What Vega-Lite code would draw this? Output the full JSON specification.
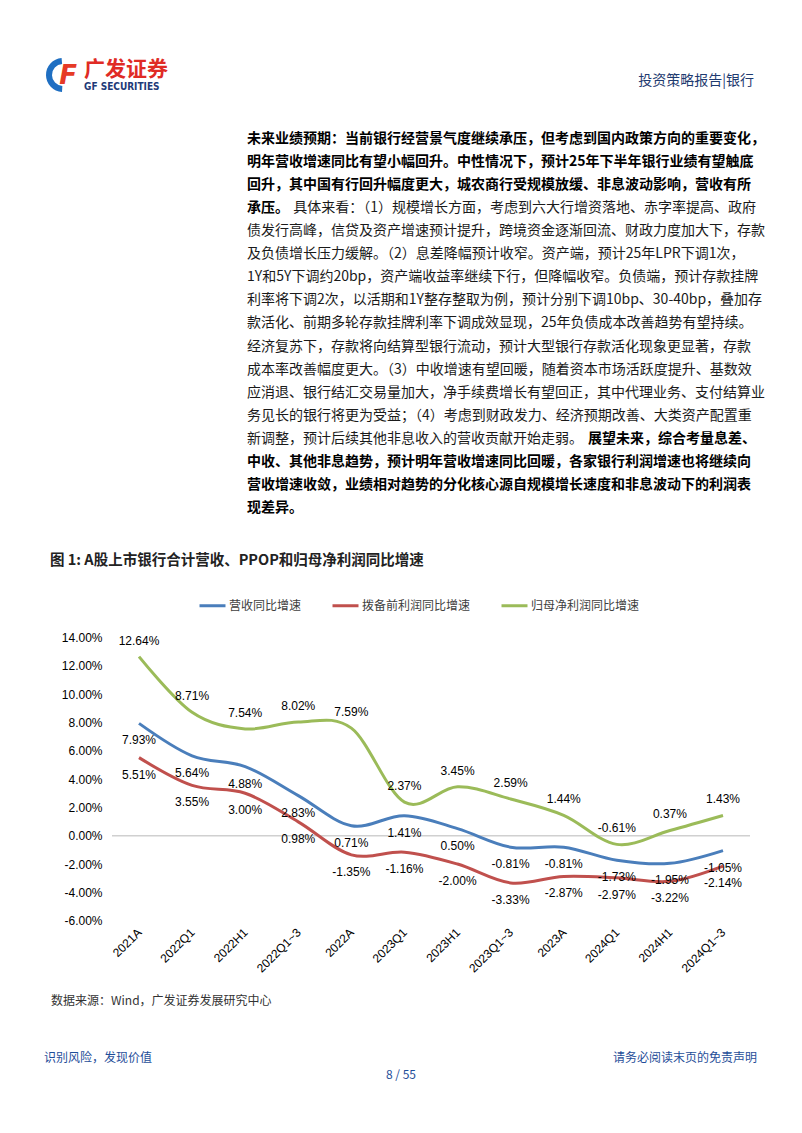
{
  "$schema": "https://vega.github.io/schema/vega-lite/v6.json",
  "width": 802,
  "height": 1133,
  "padding": 0,
  "autosize": {"type": "none"},
  "background": "white",
  "config": {
    "view": {"stroke": null},
    "font": "Liberation Sans",
    "locale": {"number": {"decimal": ".", "thousands": ",", "grouping": [3], "currency": ["$", ""], "minus": "-"}}
  },
  "datasets": {
    "growth": [
      {"period": "2021A", "series": "营收同比增速", "value": 0.0793},
      {"period": "2022Q1", "series": "营收同比增速", "value": 0.0564},
      {"period": "2022H1", "series": "营收同比增速", "value": 0.0488},
      {"period": "2022Q1~3", "series": "营收同比增速", "value": 0.0283},
      {"period": "2022A", "series": "营收同比增速", "value": 0.0071},
      {"period": "2023Q1", "series": "营收同比增速", "value": 0.0141},
      {"period": "2023H1", "series": "营收同比增速", "value": 0.0050},
      {"period": "2023Q1~3", "series": "营收同比增速", "value": -0.0081},
      {"period": "2023A", "series": "营收同比增速", "value": -0.0081},
      {"period": "2024Q1", "series": "营收同比增速", "value": -0.0173},
      {"period": "2024H1", "series": "营收同比增速", "value": -0.0195},
      {"period": "2024Q1~3", "series": "营收同比增速", "value": -0.0105},
      {"period": "2021A", "series": "拨备前利润同比增速", "value": 0.0551},
      {"period": "2022Q1", "series": "拨备前利润同比增速", "value": 0.0355},
      {"period": "2022H1", "series": "拨备前利润同比增速", "value": 0.0300},
      {"period": "2022Q1~3", "series": "拨备前利润同比增速", "value": 0.0098},
      {"period": "2022A", "series": "拨备前利润同比增速", "value": -0.0135},
      {"period": "2023Q1", "series": "拨备前利润同比增速", "value": -0.0116},
      {"period": "2023H1", "series": "拨备前利润同比增速", "value": -0.0200},
      {"period": "2023Q1~3", "series": "拨备前利润同比增速", "value": -0.0333},
      {"period": "2023A", "series": "拨备前利润同比增速", "value": -0.0287},
      {"period": "2024Q1", "series": "拨备前利润同比增速", "value": -0.0297},
      {"period": "2024H1", "series": "拨备前利润同比增速", "value": -0.0322},
      {"period": "2024Q1~3", "series": "拨备前利润同比增速", "value": -0.0214},
      {"period": "2021A", "series": "归母净利润同比增速", "value": 0.1264},
      {"period": "2022Q1", "series": "归母净利润同比增速", "value": 0.0871},
      {"period": "2022H1", "series": "归母净利润同比增速", "value": 0.0754},
      {"period": "2022Q1~3", "series": "归母净利润同比增速", "value": 0.0802},
      {"period": "2022A", "series": "归母净利润同比增速", "value": 0.0759},
      {"period": "2023Q1", "series": "归母净利润同比增速", "value": 0.0237},
      {"period": "2023H1", "series": "归母净利润同比增速", "value": 0.0345},
      {"period": "2023Q1~3", "series": "归母净利润同比增速", "value": 0.0259},
      {"period": "2023A", "series": "归母净利润同比增速", "value": 0.0144},
      {"period": "2024Q1", "series": "归母净利润同比增速", "value": -0.0061},
      {"period": "2024H1", "series": "归母净利润同比增速", "value": 0.0037},
      {"period": "2024Q1~3", "series": "归母净利润同比增速", "value": 0.0143}
    ],
    "bodyBoldLeft": [
      {"line": 1, "text": "未来业绩预期：当前银行经营景气度继续承压，但考虑到国内政策方向的重要变化，"},
      {"line": 2, "text": "明年营收增速同比有望小幅回升。中性情况下，预计25年下半年银行业绩有望触底"},
      {"line": 3, "text": "回升，其中国有行回升幅度更大，城农商行受规模放缓、非息波动影响，营收有所"},
      {"line": 4, "text": "承压。"},
      {"line": 15, "text": "中收、其他非息趋势，预计明年营收增速同比回暖，各家银行利润增速也将继续向"},
      {"line": 16, "text": "营收增速收敛，业绩相对趋势的分化核心源自规模增长速度和非息波动下的利润表"},
      {"line": 17, "text": "现差异。"}
    ],
    "bodyBoldRight": [
      {"line": 14, "text": "展望未来，综合考量息差、"}
    ],
    "bodyRegularLeft": [
      {"line": 5, "text": "债发行高峰，信贷及资产增速预计提升，跨境资金逐渐回流、财政力度加大下，存款"},
      {"line": 6, "text": "及负债增长压力缓解。（2）息差降幅预计收窄。资产端，预计25年LPR下调1次，"},
      {"line": 7, "text": "1Y和5Y下调约20bp，资产端收益率继续下行，但降幅收窄。负债端，预计存款挂牌"},
      {"line": 8, "text": "利率将下调2次，以活期和1Y整存整取为例，预计分别下调10bp、30-40bp，叠加存"},
      {"line": 9, "text": "款活化、前期多轮存款挂牌利率下调成效显现，25年负债成本改善趋势有望持续。"},
      {"line": 10, "text": "经济复苏下，存款将向结算型银行流动，预计大型银行存款活化现象更显著，存款"},
      {"line": 11, "text": "成本率改善幅度更大。（3）中收增速有望回暖，随着资本市场活跃度提升、基数效"},
      {"line": 12, "text": "应消退、银行结汇交易量加大，净手续费增长有望回正，其中代理业务、支付结算业"},
      {"line": 13, "text": "务见长的银行将更为受益；（4）考虑到财政发力、经济预期改善、大类资产配置重"},
      {"line": 14, "text": "新调整，预计后续其他非息收入的营收贡献开始走弱。"}
    ],
    "bodyRegularRight": [
      {"line": 4, "text": "具体来看：（1）规模增长方面，考虑到六大行增资落地、赤字率提高、政府"}
    ]
  },
  "layer": [
    {
      "data": {"name": "growth"},
      "encoding": {
        "x": {
          "field": "period", "type": "ordinal", "sort": null,
          "scale": {"type": "point", "domain": ["2021A", "2022Q1", "2022H1", "2022Q1~3", "2022A", "2023Q1", "2023H1", "2023Q1~3", "2023A", "2024Q1", "2024H1", "2024Q1~3"], "range": [139, 723], "padding": 0},
          "axis": {"orient": "bottom", "offset": -207, "labelAngle": -45, "labelAlign": "right", "labelBaseline": "middle", "labelFontSize": 12, "labelColor": "#000000", "labelPadding": 4, "domain": false, "ticks": false, "tickSize": 0, "grid": false, "title": null, "labelOverlap": false}
        },
        "y": {
          "field": "value", "type": "quantitative",
          "scale": {"domain": [-0.2098, 0.5898], "nice": false, "zero": false},
          "axis": {"orient": "left", "offset": -106, "values": [-0.06, -0.04, -0.02, 0, 0.02, 0.04, 0.06, 0.08, 0.1, 0.12, 0.14], "format": ".2%", "labelFontSize": 12, "labelColor": "#000000", "labelPadding": 4, "domain": false, "ticks": false, "tickSize": 0, "grid": false, "title": null, "labelOverlap": false}
        }
      },
      "layer": [
        {
          "data": {"values": [{"base": 0}]},
          "mark": {"type": "rule", "color": "#d0d0d0", "strokeWidth": 1.5, "xOffset": -27, "x2Offset": 27},
          "encoding": {
            "x": {"datum": "2021A", "type": "ordinal"},
            "x2": {"datum": "2024Q1~3"},
            "y": {"field": "base", "type": "quantitative"}
          }
        },
        {
          "mark": {"type": "line", "interpolate": "cardinal", "strokeWidth": 3},
          "encoding": {
            "color": {
              "field": "series", "type": "nominal",
              "scale": {"domain": ["营收同比增速", "拨备前利润同比增速", "归母净利润同比增速"], "range": ["#4a7ebb", "#c0504d", "#9bbb59"]},
              "legend": {"orient": "none", "legendX": 198, "legendY": 591, "direction": "horizontal", "title": null, "symbolType": "stroke", "symbolSize": 676, "symbolStrokeWidth": 3, "labelFont": "Noto Sans CJK SC", "labelFontSize": 12, "labelColor": "#404040", "labelOffset": 2, "columnPadding": 24, "padding": 0}
            }
          }
        },
        {
          "transform": [{"filter": "datum.series !== '归母净利润同比增速'"}],
          "mark": {"type": "text", "dy": 17, "fontSize": 12, "color": "#000000", "baseline": "middle"},
          "encoding": {"text": {"field": "value", "type": "quantitative", "format": ".2%"}}
        },
        {
          "transform": [{"filter": "datum.series === '归母净利润同比增速'"}],
          "mark": {"type": "text", "dy": -16, "fontSize": 12, "color": "#000000", "baseline": "middle"},
          "encoding": {"text": {"field": "value", "type": "quantitative", "format": ".2%"}}
        }
      ]
    },
    {
      "encoding": {
        "y": {"field": "line", "type": "quantitative", "scale": {"domain": [-5.028, 44.104], "reverse": true, "nice": false, "zero": false}, "axis": null},
        "text": {"field": "text", "type": "nominal"}
      },
      "layer": [
        {"data": {"name": "bodyBoldLeft"}, "mark": {"type": "text", "x": 247, "align": "left", "baseline": "middle", "font": "Noto Sans CJK SC", "fontSize": 14, "fontWeight": "bold", "color": "#000000"}},
        {"data": {"name": "bodyBoldRight"}, "mark": {"type": "text", "x": 756, "align": "right", "baseline": "middle", "font": "Noto Sans CJK SC", "fontSize": 14, "fontWeight": "bold", "color": "#000000"}},
        {"data": {"name": "bodyRegularLeft"}, "mark": {"type": "text", "x": 247, "align": "left", "baseline": "middle", "font": "Noto Sans CJK SC", "fontSize": 14, "color": "#1a1a1a"}},
        {"data": {"name": "bodyRegularRight"}, "mark": {"type": "text", "x": 756, "align": "right", "baseline": "middle", "font": "Noto Sans CJK SC", "fontSize": 14, "color": "#1a1a1a"}}
      ]
    },
    {
      "data": {"values": [{}]},
      "layer": [
        {"mark": {"type": "rule", "color": "#8c8c8c", "strokeWidth": 1, "x": 0.5, "y": 0, "y2": 1133}, "encoding": {}},
        {"mark": {"type": "rule", "color": "#8c8c8c", "strokeWidth": 1, "x": 801.5, "y": 0, "y2": 1133}, "encoding": {}},
        {"mark": {"type": "arc", "x": 63, "y": 75, "outerRadius": 17, "innerRadius": 11, "theta": 3.2, "theta2": 6.2, "color": "#1f6fc2"}, "encoding": {}},
        {"mark": {"type": "text", "text": "F", "x": 68, "y": 76, "align": "center", "baseline": "middle", "font": "DejaVu Sans", "fontSize": 26, "fontWeight": "bold", "fontStyle": "italic", "color": "#e63a26"}, "encoding": {}},
        {"mark": {"type": "text", "text": "广发证券", "x": 84, "y": 70, "align": "left", "baseline": "middle", "font": "Noto Sans CJK SC", "fontSize": 21, "fontWeight": "bold", "color": "#e02b25"}, "encoding": {}},
        {"mark": {"type": "text", "text": "GF SECURITIES", "x": 84, "y": 87, "align": "left", "baseline": "middle", "font": "DejaVu Sans Condensed", "fontSize": 10, "fontWeight": "bold", "color": "#1e3a78"}, "encoding": {}},
        {"mark": {"type": "text", "text": "投资策略报告|银行", "x": 754, "y": 81, "align": "right", "baseline": "middle", "font": "Noto Sans CJK SC", "fontSize": 14, "color": "#1f3b70"}, "encoding": {}},
        {"mark": {"type": "rule", "color": "#3aa6dc", "strokeWidth": 2.5, "x": 44, "x2": 756, "y": 92}, "encoding": {}},
        {"mark": {"type": "text", "text": "图 1: A股上市银行合计营收、PPOP和归母净利润同比增速", "x": 50, "y": 561, "align": "left", "baseline": "middle", "font": "Noto Sans CJK SC", "fontSize": 14.5, "fontWeight": "bold", "color": "#222222"}, "encoding": {}},
        {"mark": {"type": "rule", "color": "#595959", "strokeWidth": 1.5, "x": 44, "x2": 757, "y": 580}, "encoding": {}},
        {"mark": {"type": "rule", "color": "#8c8c8c", "strokeWidth": 1, "x": 44, "x2": 757, "y": 988}, "encoding": {}},
        {"mark": {"type": "text", "text": "数据来源：Wind，广发证券发展研究中心", "x": 51, "y": 1001, "align": "left", "baseline": "middle", "font": "Noto Sans CJK SC", "fontSize": 12, "color": "#333333"}, "encoding": {}},
        {"mark": {"type": "rule", "color": "#3aa6dc", "strokeWidth": 2.5, "x": 44, "x2": 756, "y": 1046}, "encoding": {}},
        {"mark": {"type": "text", "text": "识别风险，发现价值", "x": 44, "y": 1058, "align": "left", "baseline": "middle", "font": "Noto Sans CJK SC", "fontSize": 12, "color": "#1f4e99"}, "encoding": {}},
        {"mark": {"type": "text", "text": "请务必阅读末页的免责声明", "x": 757, "y": 1058, "align": "right", "baseline": "middle", "font": "Noto Sans CJK SC", "fontSize": 12, "color": "#1f4e99"}, "encoding": {}},
        {"mark": {"type": "text", "text": "8 / 55", "x": 401, "y": 1075, "align": "center", "baseline": "middle", "font": "Noto Sans CJK SC", "fontSize": 12, "color": "#1f4e99"}, "encoding": {}}
      ]
    }
  ],
  "resolve": {"scale": {"y": "independent", "x": "independent"}}
}
